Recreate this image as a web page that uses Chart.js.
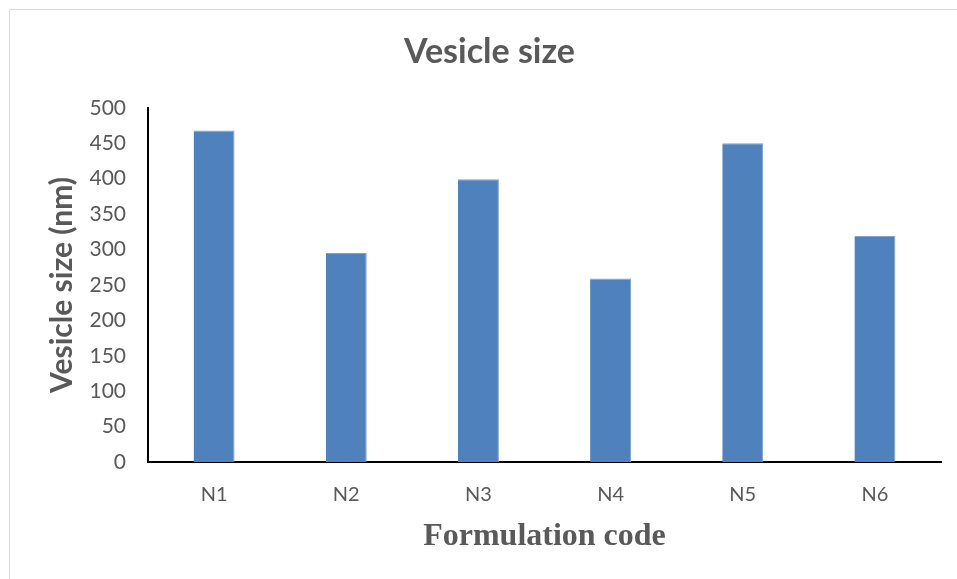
<!doctype html>
<html>
    <head>
        <meta charset="UTF-8" />
        <title>Vesicle size</title>
        <script src="https://cdn.jsdelivr.net/npm/chart.js"></script>
        <style>
            body { margin: 0; background: #fff; }
            #wrap { position: relative; width: 957px; height: 579px; }
            #frame { position: absolute; left: 9px; top: 9px; right: -10px; bottom: -10px;
                     border-left: 1px solid #d9d9d9; border-top: 1px solid #d9d9d9; }
            canvas { position: absolute; left: 0; top: 0; }
        </style>
    </head>

    <body>
        <div id="wrap">
            <div id="frame"></div>
            <canvas id="myChart" width="957" height="579"></canvas>
        </div>

        <script>
        // chart data
        var categories = ['N1', 'N2', 'N3', 'N4', 'N5', 'N6'];
        var vesicleSize = [468, 295, 399, 259, 450, 319];
        var yTicks = [0, 50, 100, 150, 200, 250, 300, 350, 400, 450, 500];

        var grey = '#595959';
        var ctx = document.getElementById('myChart').getContext('2d');

        var myChart = new Chart(ctx, {
            type: 'bar',
            data: {
                labels: categories,
                datasets: [{
                    label: 'Vesicle size',
                    data: vesicleSize,
                    backgroundColor: '#4F81BD',
                    borderColor: '#7EA3D3',
                    borderWidth: { right: 1, top: 1 },
                    categoryPercentage: 1.0,
                    barPercentage: 0.31
                }]
            },
            options: {
                responsive: false,
                animation: false,
                layout: { padding: { left: 38, right: 16, top: 0, bottom: 26 } },
                plugins: {
                    legend: { display: false },
                    tooltip: { enabled: false },
                    title: {
                        display: true,
                        text: 'Vesicle size',
                        color: grey,
                        font: { family: 'Lato', size: 34, weight: 'bold', lineHeight: 1.2 },
                        padding: { top: 32, bottom: 35 }
                    }
                },
                scales: {
                    x: {
                        afterFit: function (scale) { scale.height = 91; },
                        grid: { display: false, drawTicks: false },
                        border: { color: '#000', width: 2 },
                        ticks: { color: grey, font: { family: 'Lato', size: 20, lineHeight: 1.2 }, padding: 21 },
                        title: {
                            display: true,
                            text: 'Formulation code',
                            color: grey,
                            font: { family: 'Liberation Serif', size: 32, weight: 'bold', lineHeight: 1.0 },
                            padding: { top: 11, bottom: 0 }
                        }
                    },
                    y: {
                        min: 0,
                        max: 500,
                        afterBuildTicks: function (scale) {
                            scale.ticks = yTicks.map(function (v) { return { value: v }; });
                        },
                        afterFit: function (scale) { scale.width = 110; },
                        grid: { display: false, drawTicks: false },
                        border: { color: '#000', width: 2 },
                        ticks: { color: grey, font: { family: 'Lato', size: 21 }, padding: 22 },
                        title: {
                            display: true,
                            text: 'Vesicle size (nm)',
                            color: grey,
                            font: { family: 'Lato', size: 30, weight: 'bold', lineHeight: 1.2 },
                            padding: { top: 6, bottom: 0 }
                        }
                    }
                }
            }
        });
        </script>
    </body>
</html>
